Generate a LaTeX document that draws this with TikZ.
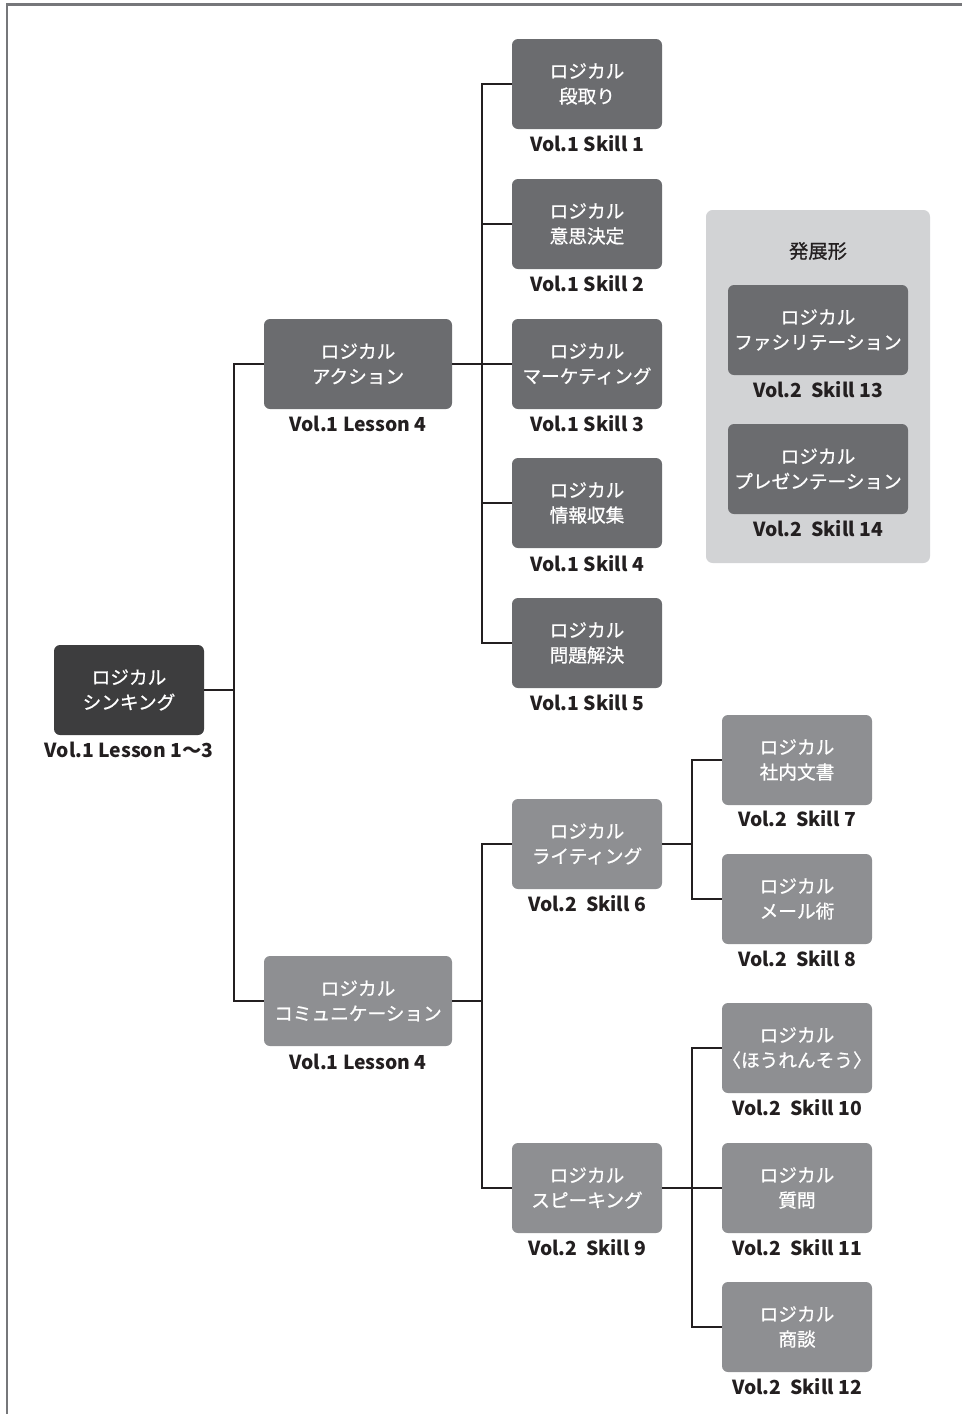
\documentclass[tikz,border=0pt]{standalone}
\usepackage{fontspec}
\setmainfont{Noto Sans CJK JP}
\newfontfamily\boxfont[FakeBold=0.8]{Noto Sans CJK JP}
\definecolor{cdark}{HTML}{3D3D3E}
\definecolor{cmid}{HTML}{6B6C6F}
\definecolor{clight}{HTML}{8E8F92}
\definecolor{cpanel}{HTML}{D2D3D5}
\definecolor{cline}{HTML}{231F20}
\definecolor{cframe}{HTML}{76777A}
\definecolor{ctext}{HTML}{231F20}
\begin{document}
\begin{tikzpicture}[x=0.75pt,y=-0.75pt,
  box/.style={rounded corners=4.5pt,minimum height=67.5pt,minimum width=112.5pt,
    text=white,align=center,inner sep=0pt,
    font=\boxfont\fontsize{14pt}{18.75pt}\selectfont},
  widebox/.style={box,minimum width=141pt},
  panelbox/.style={box,minimum width=135pt},
  lab/.style={text=ctext,inner sep=0pt,font=\fontsize{14.5pt}{17pt}\selectfont\bfseries},
  conn/.style={draw=cline,line width=1.2pt},
]
\useasboundingbox (0,0) rectangle (962,1414);
\draw[cframe,line width=1.6pt] (7,1414) -- (7,4.5) -- (962,4.5);

% panel
\fill[cpanel,rounded corners=5pt] (706,210) rectangle (930,563);
\node[text=ctext,font=\boxfont\fontsize{14.5pt}{17pt}\selectfont] (ptitle) at (818,251) {発展形};
\node[panelbox,fill=cmid] (p13) at (818,330) {ロジカル\\ファシリテーション};
\node[lab] (p13l) at (818,390) {Vol.2\ \ Skill 13};
\node[panelbox,fill=cmid] (p14) at (818,469) {ロジカル\\プレゼンテーション};
\node[lab] (p14l) at (818,529) {Vol.2\ \ Skill 14};

% root
\node[box,fill=cdark] (root) at (129,690) {ロジカル\\シンキング};
\node[lab] (rootl) at (129,750) {Vol.1 Lesson 1〜3};

% level 1
\node[widebox,fill=cmid] (act) at (358,364) {ロジカル\\アクション};
\node[lab] (actl) at (358,424) {Vol.1 Lesson 4};
\node[widebox,fill=clight] (com) at (358,1001) {ロジカル\\コミュニケーション};
\node[lab] (coml) at (358,1062) {Vol.1 Lesson 4};

% action skills
\node[box,fill=cmid] (s1) at (587,84) {ロジカル\\段取り};
\node[lab] (s1l) at (587,144) {Vol.1 Skill 1};
\node[box,fill=cmid] (s2) at (587,224) {ロジカル\\意思決定};
\node[lab] (s2l) at (587,284) {Vol.1 Skill 2};
\node[box,fill=cmid] (s3) at (587,364) {ロジカル\\マーケティング};
\node[lab] (s3l) at (587,424) {Vol.1 Skill 3};
\node[box,fill=cmid] (s4) at (587,503) {ロジカル\\情報収集};
\node[lab] (s4l) at (587,564) {Vol.1 Skill 4};
\node[box,fill=cmid] (s5) at (587,643) {ロジカル\\問題解決};
\node[lab] (s5l) at (587,703) {Vol.1 Skill 5};

% communication
\node[box,fill=clight] (w) at (587,844) {ロジカル\\ライティング};
\node[lab] (wl) at (587,904) {Vol.2\ \ Skill 6};
\node[box,fill=clight] (sp) at (587,1188) {ロジカル\\スピーキング};
\node[lab] (spl) at (587,1248) {Vol.2\ \ Skill 9};

\node[box,fill=clight] (s7) at (797,760) {ロジカル\\社内文書};
\node[lab] (s7l) at (797,819) {Vol.2\ \ Skill 7};
\node[box,fill=clight] (s8) at (797,899) {ロジカル\\メール術};
\node[lab] (s8l) at (797,959) {Vol.2\ \ Skill 8};
\node[box,fill=clight] (s10) at (797,1048) {ロジカル\\〈ほうれんそう〉};
\node[lab] (s10l) at (797,1108) {Vol.2\ \ Skill 10};
\node[box,fill=clight] (s11) at (797,1188) {ロジカル\\質問};
\node[lab] (s11l) at (797,1248) {Vol.2\ \ Skill 11};
\node[box,fill=clight] (s12) at (797,1327) {ロジカル\\商談};
\node[lab] (s12l) at (797,1387) {Vol.2\ \ Skill 12};

% connectors
\draw[conn] (root.east) -- ++(30,0) |- (act.west);
\draw[conn] (root.east) -- ++(30,0) |- (com.west);
\foreach \t in {s1,s2,s3,s4,s5}
  \draw[conn] (act.east) -- ++(30,0) |- (\t.west);
\draw[conn] (com.east) -- ++(30,0) |- (w.west);
\draw[conn] (com.east) -- ++(30,0) |- (sp.west);
\draw[conn] (w.east) -- ++(30,0) |- (s7.west);
\draw[conn] (w.east) -- ++(30,0) |- (s8.west);
\foreach \t in {s10,s11,s12}
  \draw[conn] (sp.east) -- ++(30,0) |- (\t.west);
\end{tikzpicture}
\end{document}
